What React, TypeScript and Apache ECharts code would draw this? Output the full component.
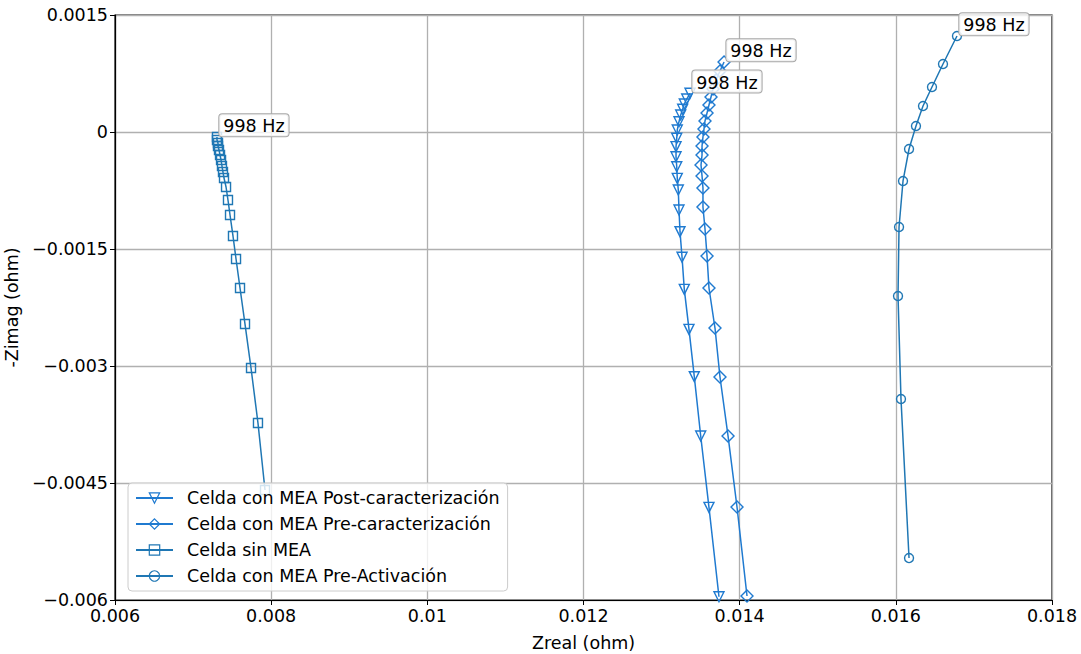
import React, { useEffect, useRef } from "react";
import * as echarts from "echarts";

// Nyquist plot data: Zreal (ohm) and -Zimag (ohm); first point of each sweep is 998 Hz
const ZREAL_POST = [
  0.013364, 0.013322, 0.013291, 0.01327, 0.013245, 0.013223, 0.013201, 0.013194,
  0.013185, 0.013185, 0.013194, 0.013201, 0.013214, 0.013223, 0.013236, 0.013262,
  0.013291, 0.013351, 0.013419, 0.013501, 0.013607, 0.013735,
];
const ZIMAG_POST = [
  0.000496, 0.000423, 0.000359, 0.000291, 0.000218, 0.000132, 0.000026, -0.000081,
  -0.000188, -0.000317, -0.000445, -0.000594, -0.000744, -0.001, -0.001278, -0.001606,
  -0.002017, -0.00253, -0.003137, -0.003897, -0.004812, -0.005958,
];

const ZREAL_PRE_CAR = [
  0.0138, 0.013748, 0.013697, 0.013659, 0.013633, 0.013607, 0.013582, 0.013556,
  0.013543, 0.01353, 0.013518, 0.013518, 0.013505, 0.013518, 0.01353, 0.01353,
  0.013556, 0.013582, 0.013607, 0.013684, 0.013748, 0.013851, 0.013966, 0.014094,
];
const ZIMAG_PRE_CAR = [
  0.000897, 0.000782, 0.000667, 0.000551, 0.000449, 0.000346, 0.000244, 0.000141,
  0.000038, -0.000064, -0.000179, -0.000295, -0.000423, -0.000564, -0.000718, -0.000962,
  -0.001244, -0.00159, -0.002, -0.002513, -0.003141, -0.003897, -0.004808, -0.005949,
];

const ZREAL_SIN_MEA = [
  0.007306, 0.007306, 0.007319, 0.007319, 0.007332, 0.007345, 0.007358, 0.00737,
  0.007383, 0.007396, 0.007422, 0.007447, 0.007473, 0.007511, 0.00755, 0.007601,
  0.007665, 0.007742, 0.007831, 0.007921,
];
const ZIMAG_SIN_MEA = [
  -0.000064, -0.000103, -0.000141, -0.000179, -0.000231, -0.000295, -0.000359, -0.000436,
  -0.000513, -0.00059, -0.000705, -0.000872, -0.001064, -0.001333, -0.001628, -0.002,
  -0.002462, -0.003026, -0.003731, -0.00459,
];

const ZREAL_PRE_ACT = [
  0.016783, 0.016604, 0.016463, 0.016348, 0.016258, 0.016169, 0.016092, 0.016041,
  0.016028, 0.016066, 0.016169,
];
const ZIMAG_PRE_ACT = [
  0.001231, 0.000872, 0.000577, 0.000333, 0.000077, -0.000218, -0.000628, -0.001218,
  -0.002103, -0.003423, -0.005462,
];

const SERIES_NAMES = [
  "Celda con MEA Post-caracterización",
  "Celda con MEA Pre-caracterización",
  "Celda sin MEA",
  "Celda con MEA Pre-Activación",
];
const FREQ_LABEL = "998 Hz";

const X_TICKS = { min: 0.006, max: 0.018, interval: 0.002 };
const Y_TICKS = { min: -0.006, max: 0.0015, interval: 0.0015 };

const FONT = "DejaVu Sans";
const FS = 17.5;

// rhombus outline with equal width and height
const DIAMOND = "path://M0,-10L10,0L0,10L-10,0Z";

function fmtNum(v: number): string {
  if (Math.abs(v) < 1e-12) return "0";
  const s = parseFloat(Math.abs(v).toPrecision(6)).toString();
  return (v < 0 ? "\u2212" : "") + s;
}

function buildSeries(
  name: string,
  xs: number[],
  ys: number[],
  symbol: string,
  size: number,
  color: string,
  rotate = 0
) {
  const data = xs.map((x, i) => {
    if (i === 0) {
      return {
        value: [x, ys[i]],
        label: {
          show: true,
          formatter: FREQ_LABEL,
          position: [size / 2 + 3, size / 2],
          align: "left",
          verticalAlign: "bottom",
          fontFamily: FONT,
          fontSize: FS,
          color: "#000",
          backgroundColor: "rgba(255,255,255,0.8)",
          borderColor: "#a8a8a8",
          borderWidth: 1,
          borderRadius: 3,
          padding: [3, 4, 1, 4],
        },
      };
    }
    return { value: [x, ys[i]] };
  });
  return {
    name,
    type: "line",
    data,
    symbol,
    symbolSize: size,
    symbolRotate: rotate,
    showAllSymbol: true,
    clip: true,
    lineStyle: { color, width: 1.5 },
    itemStyle: { color: "rgba(255,255,255,0)", borderColor: color, borderWidth: 1.4 },
    emphasis: { disabled: true },
    z: 3,
  };
}

export default function App() {
  const ref = useRef<HTMLDivElement>(null);

  useEffect(() => {
    if (!ref.current) return;
    const chart = echarts.init(ref.current, undefined, { renderer: "svg" });
    const blueA = "#1f7ad0";
    const blueB = "#1f77b4";

    const axisCommon = {
      axisLine: { show: true, onZero: false, lineStyle: { color: "#000", width: 1.2 } },
      axisTick: { show: true, inside: false, length: 5, lineStyle: { color: "#000", width: 1 } },
      splitLine: { show: true, lineStyle: { color: "#b0b0b0", width: 1.3 } },
      axisLabel: { color: "#000", fontFamily: FONT, fontSize: FS, formatter: fmtNum },
      nameTextStyle: { color: "#000", fontFamily: FONT, fontSize: FS },
    };

    chart.setOption({
      animation: false,
      backgroundColor: "#fff",
      textStyle: { fontFamily: FONT },
      grid: {
        left: 115,
        right: 29,
        top: 15,
        bottom: 54,
        containLabel: false,
        outerBoundsMode: "none",
        show: true,
        borderColor: "#000",
        borderWidth: 1.2,
        backgroundColor: "transparent",
      },
      xAxis: {
        type: "value",
        ...X_TICKS,
        name: "Zreal (ohm)",
        nameLocation: "middle",
        nameGap: 34,
        ...axisCommon,
        axisLabel: { ...axisCommon.axisLabel, margin: 7 },
      },
      yAxis: {
        type: "value",
        ...Y_TICKS,
        name: "-Zimag (ohm)",
        nameLocation: "middle",
        nameGap: 73,
        ...axisCommon,
        axisLabel: { ...axisCommon.axisLabel, margin: 7 },
      },
      legend: {
        orient: "vertical",
        left: 128,
        top: 483,
        itemWidth: 37,
        itemHeight: 13,
        itemGap: 8,
        padding: [6, 8, 6, 7],
        backgroundColor: "rgba(255,255,255,0.8)",
        borderColor: "#cccccc",
        borderWidth: 1,
        borderRadius: 4,
        itemStyle: { borderWidth: 1.2 },
        textStyle: { color: "#000", fontFamily: FONT, fontSize: FS, padding: [0, 0, 0, 9], lineHeight: 18 },
        data: SERIES_NAMES,
        z: 10,
      },
      series: [
        buildSeries(SERIES_NAMES[0], ZREAL_POST, ZIMAG_POST, "triangle", 10, blueA, 180),
        buildSeries(SERIES_NAMES[1], ZREAL_PRE_CAR, ZIMAG_PRE_CAR, DIAMOND, 12, blueA),
        buildSeries(SERIES_NAMES[2], ZREAL_SIN_MEA, ZIMAG_SIN_MEA, "rect", 9, blueB),
        buildSeries(SERIES_NAMES[3], ZREAL_PRE_ACT, ZIMAG_PRE_ACT, "circle", 9, blueB),
      ],
    });

    return () => chart.dispose();
  }, []);

  return (
    <div
      ref={ref}
      style={{ position: "fixed", left: 0, top: 0, width: 1081, height: 654, background: "#fff" }}
    />
  );
}
